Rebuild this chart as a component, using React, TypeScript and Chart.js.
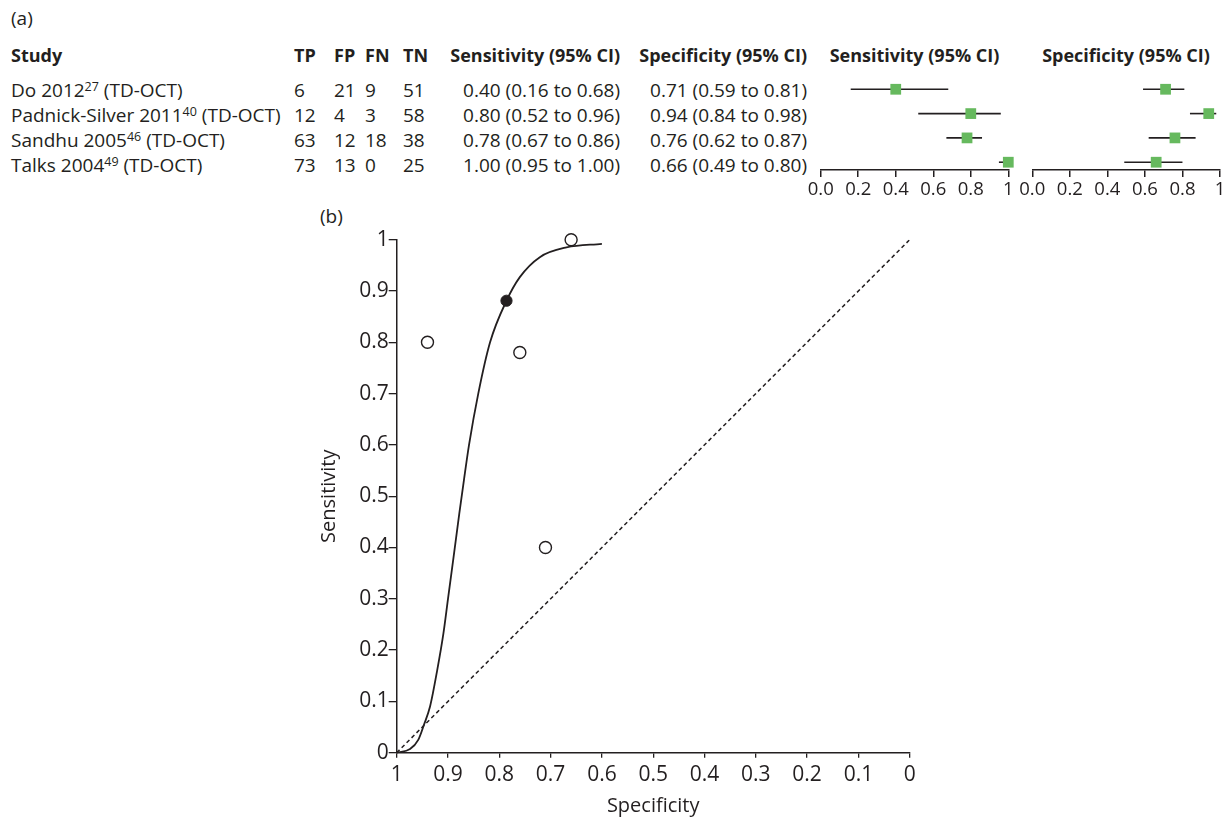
import React, { useEffect, useRef } from 'react';
import { Chart, registerables } from 'chart.js';
Chart.register(...registerables);

const FONT = "'Open Sans', sans-serif";
const INK = '#231f20';
const GREEN = '#66b95e';

// ---- data (panel a) ----
const studies = ['Do 2012', 'Padnick-Silver 2011', 'Sandhu 2005', 'Talks 2004'];
const refs = ['27', '40', '46', '49'];
const suffix = ' (TD-OCT)';
const tp = [6, 12, 63, 73];
const fp = [21, 4, 12, 13];
const fn = [9, 3, 18, 0];
const tn = [51, 58, 38, 25];
const sens = [0.40, 0.80, 0.78, 1.00];
const sensLo = [0.16, 0.52, 0.67, 0.95];
const sensHi = [0.68, 0.96, 0.86, 1.00];
const spec = [0.71, 0.94, 0.76, 0.66];
const specLo = [0.59, 0.84, 0.62, 0.49];
const specHi = [0.81, 0.98, 0.87, 0.80];
const forestTickLabels = ['0.0', '0.2', '0.4', '0.6', '0.8', '1'];

// ---- data (panel b) ----
const srocTickLabels = ['0', '0.1', '0.2', '0.3', '0.4', '0.5', '0.6', '0.7', '0.8', '0.9', '1'];
const curveSpec = [1, 0.974, 0.958, 0.947, 0.935, 0.921, 0.909, 0.9, 0.89, 0.878, 0.869, 0.859, 0.841, 0.818, 0.786, 0.76, 0.721, 0.669, 0.6];
const curveSens = [0, 0.007, 0.025, 0.054, 0.09, 0.161, 0.232, 0.3, 0.375, 0.466, 0.531, 0.6, 0.7, 0.8, 0.881, 0.927, 0.966, 0.985, 0.992];
const summarySpec = [0.786];
const summarySens = [0.881];
const diagSpec = [1, 0];
const diagSens = [0, 1];

Chart.defaults.font.family = FONT;
Chart.defaults.color = INK;

function Forest({ left, width, est, lo, hi, padL, padR }: any) {
  const ref = useRef<HTMLCanvasElement>(null);
  useEffect(() => {
    const datasets: any[] = [];
    est.forEach((_: number, i: number) => {
      datasets.push({
        type: 'line',
        data: [{ x: lo[i], y: i }, { x: hi[i], y: i }],
        borderColor: INK,
        borderWidth: 1.6,
        pointRadius: 0,
        order: 2,
        clip: false,
      });
    });
    datasets.push({
      type: 'scatter',
      data: est.map((e: number, i: number) => ({ x: e, y: i })),
      pointStyle: 'rect',
      pointRadius: 7.6,
      backgroundColor: GREEN,
      borderWidth: 0,
      order: 0,
      clip: false,
    });
    const chart = new Chart(ref.current as HTMLCanvasElement, {
      type: 'scatter',
      data: { datasets },
      options: {
        responsive: false,
        animation: false,
        events: [],
        layout: { padding: { left: padL, right: padR, top: 5, bottom: 0 } },
        plugins: { legend: { display: false }, tooltip: { enabled: false } },
        scales: {
          x: {
            type: 'linear',
            min: 0,
            max: 1,
            ticks: {
              stepSize: 0.2,
              autoSkip: false,
              maxRotation: 0,
              callback: (v: any) => forestTickLabels[Math.round(Number(v) * 5)],
              font: { family: FONT, size: 18.5 },
              color: INK,
              padding: 2,
            },
            grid: { drawOnChartArea: false, drawTicks: true, tickLength: 7, color: INK, lineWidth: 1.5 },
            border: { display: true, color: INK, width: 1.5 },
            afterFit: (s: any) => {
              s.height = 30;
              s.paddingLeft = 0;
              s.paddingRight = 0;
            },
          },
          y: { type: 'linear', display: false, min: -0.48, max: 3.32, reverse: true },
        },
      } as any,
    });
    return () => chart.destroy();
  }, []);
  return (
    <canvas
      ref={ref}
      width={width}
      height={130}
      style={{ position: 'absolute', left, top: 70, width, height: 130 }}
    />
  );
}

function Sroc() {
  const ref = useRef<HTMLCanvasElement>(null);
  useEffect(() => {
    const chart = new Chart(ref.current as HTMLCanvasElement, {
      type: 'scatter',
      data: {
        datasets: [
          {
            data: spec.map((s, i) => ({ x: s, y: sens[i] })),
            pointRadius: 6,
            backgroundColor: '#ffffff',
            borderColor: INK,
            borderWidth: 1.4,
            order: 0,
            clip: false,
          },
          {
            data: summarySpec.map((s, i) => ({ x: s, y: summarySens[i] })),
            pointRadius: 5.6,
            backgroundColor: INK,
            borderColor: INK,
            borderWidth: 1,
            order: 0,
            clip: false,
          },
          {
            data: curveSpec.map((s, i) => ({ x: s, y: curveSens[i] })),
            showLine: true,
            borderColor: INK,
            borderWidth: 1.8,
            pointRadius: 0,
            cubicInterpolationMode: 'monotone',
            order: 1,
            clip: false,
          },
          {
            data: diagSpec.map((s, i) => ({ x: s, y: diagSens[i] })),
            showLine: true,
            borderColor: INK,
            borderWidth: 1.5,
            borderDash: [4, 3],
            pointRadius: 0,
            order: 2,
          },
        ],
      } as any,
      options: {
        responsive: false,
        animation: false,
        events: [],
        layout: { padding: { left: 17, right: 30.3, top: 39.7, bottom: 0 } },
        plugins: { legend: { display: false }, tooltip: { enabled: false } },
        scales: {
          x: {
            type: 'linear',
            min: 0,
            max: 1,
            reverse: true,
            ticks: {
              stepSize: 0.1,
              autoSkip: false,
              maxRotation: 0,
              callback: (v: any) => srocTickLabels[Math.round(Number(v) * 10)],
              font: { family: FONT, size: 21 },
              color: INK,
              padding: 5,
            },
            grid: { drawOnChartArea: false, drawTicks: true, tickLength: 5, color: INK, lineWidth: 1.3 },
            border: { display: true, color: INK, width: 1.5 },
            title: { display: true, text: 'Specificity', font: { family: FONT, size: 20 }, color: INK, padding: { top: 0, bottom: 0 } },
            afterFit: (s: any) => {
              s.height = 65.3;
              s.paddingLeft = 0;
              s.paddingRight = 0;
            },
          },
          y: {
            type: 'linear',
            min: 0,
            max: 1,
            ticks: {
              stepSize: 0.1,
              autoSkip: false,
              callback: (v: any) => srocTickLabels[Math.round(Number(v) * 10)],
              font: { family: FONT, size: 21 },
              color: INK,
              padding: 0,
            },
            grid: { drawOnChartArea: false, drawTicks: true, tickLength: 8, color: INK, lineWidth: 1.3 },
            border: { display: true, color: INK, width: 1.5 },
            title: { display: true, text: 'Sensitivity', font: { family: FONT, size: 20 }, color: INK, padding: { top: 0, bottom: 0 } },
            afterFit: (s: any) => {
              s.width = 79.7;
              s.paddingTop = 0;
              s.paddingBottom = 0;
            },
          },
        },
      } as any,
    });
    return () => chart.destroy();
  }, []);
  return (
    <canvas
      ref={ref}
      width={640}
      height={618}
      style={{ position: 'absolute', left: 300, top: 200, width: 640, height: 618 }}
    />
  );
}

function T({ x, y, children, align = 'left', bold = false, size = 19 }: any) {
  const style: any = {
    position: 'absolute',
    top: y - size * 0.531,
    whiteSpace: 'nowrap',
    lineHeight: `${size}px`,
    fontSize: size,
    fontWeight: bold ? 700 : 400,
  };
  if (align === 'left') style.left = x;
  else if (align === 'right') style.right = 1230 - x;
  else {
    style.left = x;
    style.transform = 'translateX(-50%)';
  }
  return <div style={style}>{children}</div>;
}

const fmt = (v: number) => v.toFixed(2);

export default function App() {
  const rowY = (i: number) => 90.7 + 25.1 * i;
  const headY = 55.5;
  return (
    <div
      style={{
        position: 'absolute',
        left: 0,
        top: 0,
        width: 1230,
        height: 818,
        background: '#fff',
        fontFamily: FONT,
        color: INK,
        overflow: 'hidden',
      }}
    >
      <T x={11} y={19.5}>(a)</T>
      <T x={11} y={headY} bold size={18}>Study</T>
      <T x={294} y={headY} bold size={18}>TP</T>
      <T x={334} y={headY} bold size={18}>FP</T>
      <T x={365} y={headY} bold size={18}>FN</T>
      <T x={403} y={headY} bold size={18}>TN</T>
      <T x={620} y={headY} bold size={18} align="right">Sensitivity (95% CI)</T>
      <T x={807} y={headY} bold size={18} align="right">Specificity (95% CI)</T>
      <T x={914.5} y={headY} bold size={18} align="center">Sensitivity (95% CI)</T>
      <T x={1126} y={headY} bold size={18} align="center">Specificity (95% CI)</T>
      {studies.map((s, i) => (
        <React.Fragment key={s}>
          <T x={11} y={rowY(i)}>
            {s}
            <sup style={{ fontSize: 12.5, lineHeight: 0, verticalAlign: '6px' }}>{refs[i]}</sup>
            {suffix}
          </T>
          <T x={294} y={rowY(i)}>{tp[i]}</T>
          <T x={334} y={rowY(i)}>{fp[i]}</T>
          <T x={365} y={rowY(i)}>{fn[i]}</T>
          <T x={403} y={rowY(i)}>{tn[i]}</T>
          <T x={620} y={rowY(i)} align="right">{`${fmt(sens[i])} (${fmt(sensLo[i])} to ${fmt(sensHi[i])})`}</T>
          <T x={807} y={rowY(i)} align="right">{`${fmt(spec[i])} (${fmt(specLo[i])} to ${fmt(specHi[i])})`}</T>
        </React.Fragment>
      ))}
      <Forest left={800} width={225} est={sens} lo={sensLo} hi={sensHi} padL={20.7} padR={16.7} />
      <Forest left={1012} width={218} est={spec} lo={specLo} hi={specHi} padL={20.3} padR={10} />
      <T x={320} y={217}>(b)</T>
      <Sroc />
    </div>
  );
}
